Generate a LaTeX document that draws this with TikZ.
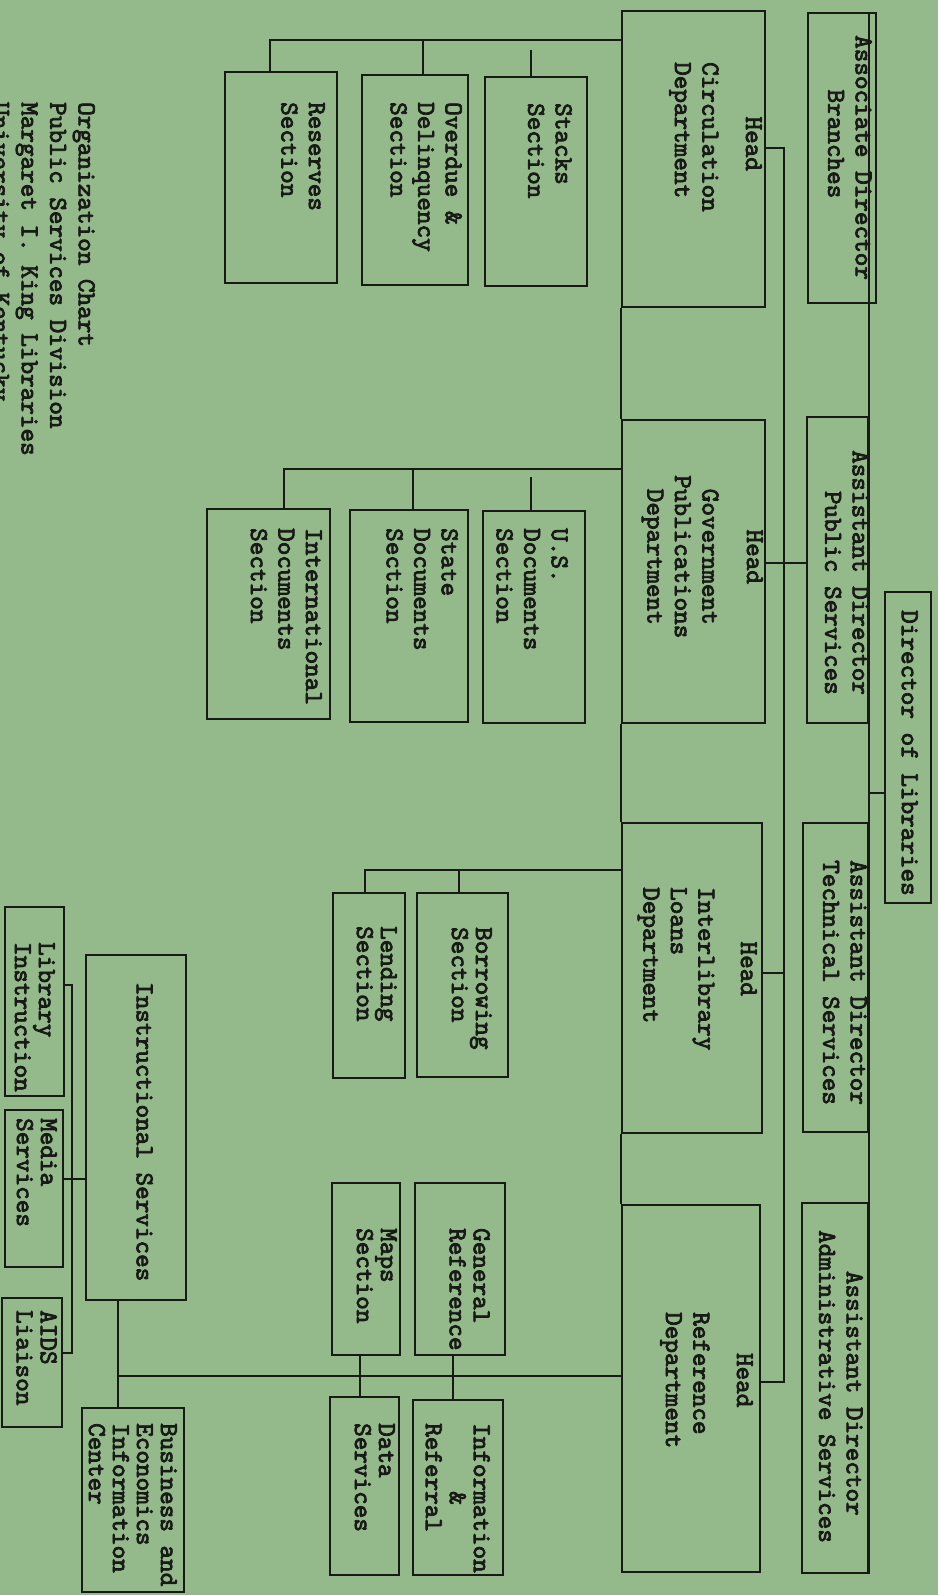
\documentclass[tikz,border=0pt]{standalone}
\usepackage{fontspec}
\newfontfamily\twfont{lmmono10-regular.otf}[FakeBold=3]
\usetikzlibrary{fit}
\definecolor{paper}{RGB}{148,186,140}
\definecolor{ink}{RGB}{24,26,22}
\newcommand\orgbox[5]{\node[box, fit={(#2,#3) (#4,#5)}] (#1) {};}
\newcommand\orgtxt[4][]{\node[lbl,#1] (#2) at (#3) {#4};}
\begin{document}
\begin{tikzpicture}[x=1pt,y=-1pt,
  box/.style={draw=ink, line width=2.3pt, inner sep=0pt},
  lbl/.style={font={\twfont\fontsize{25.9pt}{27.5pt}\selectfont}, text=ink, rotate=-90, anchor=north west, inner sep=0pt, align=left},
  tight/.style={font={\twfont\fontsize{25.9pt}{24pt}\selectfont}},
  foot/.style={font={\twfont\fontsize{25.9pt}{28.5pt}\selectfont}},
  wire/.style={draw=ink, line width=2.1pt}]
\fill[paper] (0,0) rectangle (938,1595);
\useasboundingbox (0,0) rectangle (938,1595);

% top level
\orgbox{dir}{885}{592}{931}{903}
\orgbox{assoc}{808}{13}{876}{303}
\orgbox{adps}{807}{417}{868}{723}
\orgbox{adts}{803}{823}{868}{1132}
\orgbox{adas}{802}{1203}{868}{1573}
% departments
\orgbox{circ}{622}{11}{765}{307}
\orgbox{gov}{622}{420}{765}{723}
\orgbox{ill}{622}{823}{762}{1133}
\orgbox{ref}{622}{1205}{760}{1572}
% sections
\orgbox{stacks}{485}{77}{587}{286}
\orgbox{overdue}{362}{75}{468}{285}
\orgbox{reserves}{225}{72}{337}{283}
\orgbox{usdoc}{483}{511}{585}{723}
\orgbox{statedoc}{350}{510}{468}{722}
\orgbox{intldoc}{207}{509}{330}{719}
\orgbox{borrow}{417}{893}{508}{1077}
\orgbox{lend}{333}{893}{405}{1078}
\orgbox{genref}{415}{1183}{505}{1355}
\orgbox{maps}{332}{1183}{400}{1355}
\orgbox{inforef}{413}{1400}{503}{1575}
\orgbox{data}{330}{1397}{399}{1575}
\orgbox{instr}{86}{955}{186}{1300}
\orgbox{libinst}{5}{907}{64}{1096}
\orgbox{media}{5}{1110}{63}{1267}
\orgbox{aids}{2}{1298}{62}{1427}
\orgbox{beic}{82}{1408}{184}{1592}

% texts
\orgtxt{dir-t}{918,610}{Director of Libraries}
\orgtxt{assoc-t}{872,35}{Associate Director\\~~~~Branches}
\orgtxt{adps-t}{869,450}{Assistant Director\\~~~Public Services}
\orgtxt{adts-t}{867,860}{Assistant Director\\Technical Services}
\orgtxt{adas-t}{863,1230}{~~~Assistant Director\\Administrative Services}
\orgtxt{circ-t}{762,62}{~~~~Head\\[16pt]Circulation\\Department}
\orgtxt{gov-t}{763,475}{~~~~Head\\[17pt]~Government\\Publications\\~Department}
\orgtxt{ill-t}{757,887}{~~~~Head\\[15pt]Interlibrary\\Loans\\Department}
\orgtxt{ref-t}{753,1312}{~~~Head\\[16pt]Reference\\Department}
\orgtxt{stacks-t}{572,103}{Stacks\\Section}
\orgtxt{overdue-t}{462,102}{Overdue \&\\Delinquency\\Section}
\orgtxt{reserves-t}{325,102}{Reserves\\Section}
\orgtxt{usdoc-t}{568,528}{U.S.\\Documents\\Section}
\orgtxt{statedoc-t}{458,528}{State\\Documents\\Section}
\orgtxt{intldoc-t}{322,528}{International\\Documents\\Section}
\orgtxt[tight]{borrow-t}{492,927}{Borrowing\\Section}
\orgtxt[tight]{lend-t}{397,926}{Lending\\Section}
\orgtxt[tight]{genref-t}{490,1228}{General\\Reference}
\orgtxt[tight]{maps-t}{397,1228}{Maps\\Section}
\orgtxt[tight]{inforef-t}{490,1423}{Information\\~~~~~\&\\Referral}
\orgtxt[tight]{data-t}{395,1423}{Data\\Services}
\orgtxt{instr-t}{153,982}{Instructional Services}
\orgtxt[tight]{libinst-t}{55,942}{Library\\Instruction}
\orgtxt[tight]{media-t}{57,1118}{Media\\Services}
\orgtxt[tight]{aids-t}{57,1310}{AIDS\\Liaison}
\orgtxt[tight]{beic-t}{177,1423}{Business and\\Economics\\Information\\Center}
\orgtxt[foot]{footer}{95,102}{Organization Chart\\Public Services Division\\Margaret I. King Libraries\\University of Kentucky}

% spine of top level
\draw[wire] (adps.north east |- assoc.north) -- (adas.south east);
\coordinate (dj) at (868,793);
\draw[wire] (dj) -- (dj -| dir.west);
% department spine
\coordinate (dtop) at (784,148);
\coordinate (dbot) at (784,1382);
\coordinate (gj) at (784,563);
\coordinate (ij) at (784,973);
\draw[wire] (circ.east |- dtop) -- (dtop) -- (dbot) -- (ref.east |- dbot);
\draw[wire] (gov.east |- gj) -- (adps.west |- gj);
\draw[wire] (ill.east |- ij) -- (ij);
% left edge line joining departments
\draw[wire] (circ.south west) -- (gov.north west);
\draw[wire] (gov.south west) -- (ill.north west);
\draw[wire] (ill.south west) -- (ref.north west);
% circulation sections
\coordinate (cb) at (270,40);
\coordinate (cb2) at (423,40);
\coordinate (cb3) at (531,50);
\draw[wire] (circ.west |- cb) -- (cb) -- (reserves.north -| cb);
\draw[wire] (cb2) -- (overdue.north -| cb2);
\draw[wire] (cb3) -- (stacks.north -| cb3);
% government publications sections
\coordinate (gb) at (284,469);
\coordinate (gb2) at (413,469);
\coordinate (gb3) at (531,477);
\draw[wire] (gov.west |- gb) -- (gb) -- (intldoc.north -| gb);
\draw[wire] (gb2) -- (statedoc.north -| gb2);
\draw[wire] (gb3) -- (usdoc.north -| gb3);
% interlibrary loans sections
\coordinate (ib) at (365,870);
\coordinate (ib2) at (459,870);
\draw[wire] (ill.west |- ib) -- (ib) -- (lend.north -| ib);
\draw[wire] (ib2) -- (borrow.north -| ib2);
% reference sections
\coordinate (rb) at (118,1376);
\coordinate (rx1) at (453,1376);
\coordinate (rx2) at (360,1376);
\draw[wire] (ref.west |- rb) -- (rb);
\draw[wire] (instr.south -| rb) -- (beic.north -| rb);
\draw[wire] (genref.south -| rx1) -- (inforef.north -| rx1);
\draw[wire] (maps.south -| rx2) -- (data.north -| rx2);
% instructional services
\coordinate (iv1) at (72,985);
\coordinate (iv2) at (72,1353);
\coordinate (im) at (72,1179);
\draw[wire] (libinst.east |- iv1) -- (iv1) -- (iv2) -- (aids.east |- iv2);
\draw[wire] (media.east |- im) -- (instr.west |- im);
\end{tikzpicture}
\end{document}
